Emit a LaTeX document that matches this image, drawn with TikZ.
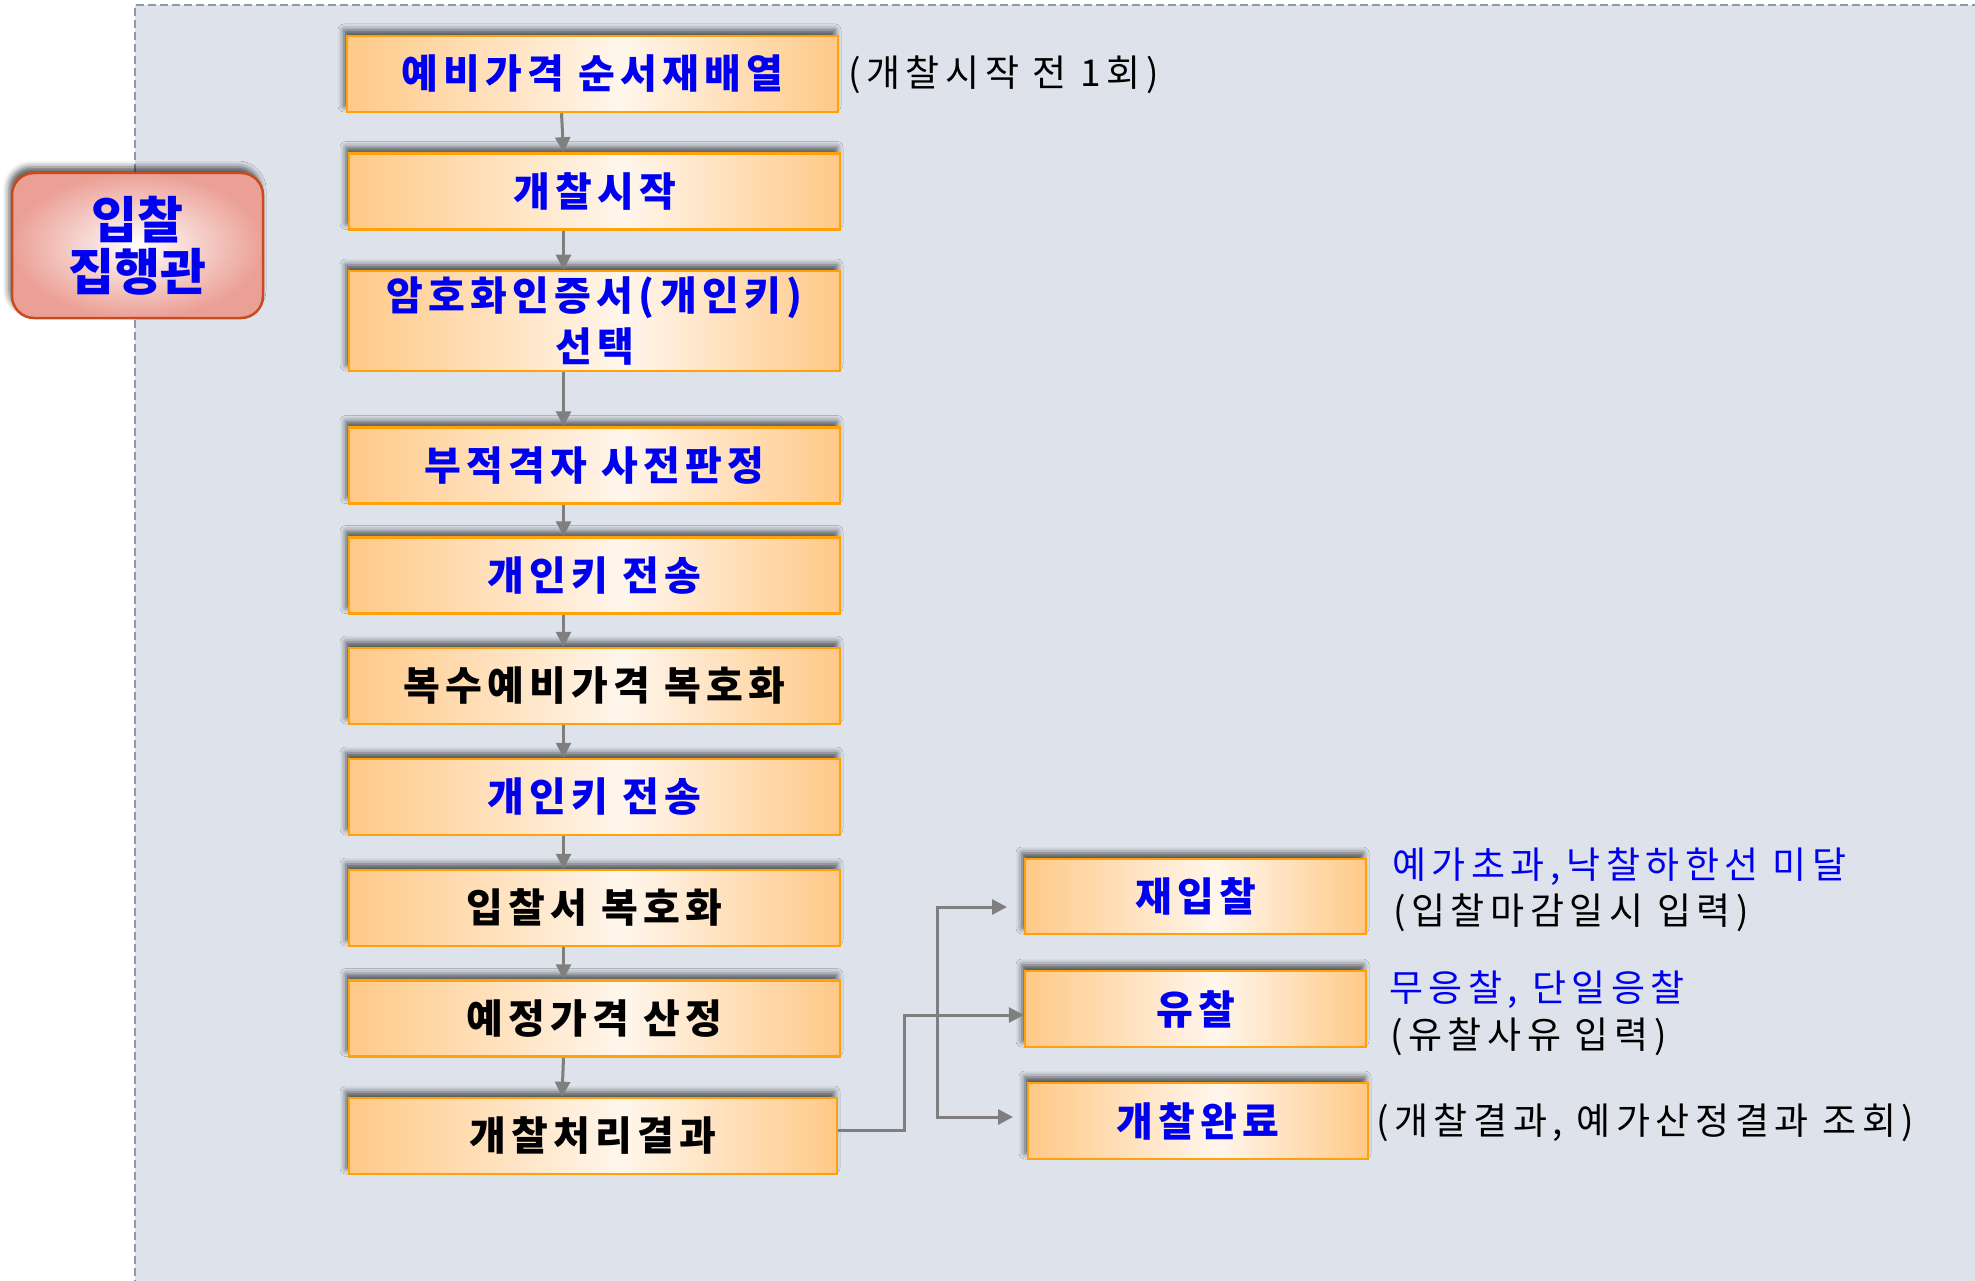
\documentclass[tikz,border=0pt]{standalone}
\usepackage{fontspec}
\usetikzlibrary{arrows.meta,shadows.blur}
\newfontfamily\krbox{Noto Sans CJK KR}[LetterSpace=13]
\newfontfamily\krnote{Noto Sans CJK KR}[LetterSpace=15]
\newfontfamily\krbig{Noto Sans CJK KR}
\definecolor{panel}{HTML}{DEE3EB}
\definecolor{panelline}{HTML}{8A99AE}
\definecolor{boxor}{HTML}{FFC987}
\definecolor{boxwh}{HTML}{FFF6EC}
\definecolor{boxborder}{HTML}{FFA20A}
\definecolor{txtblue}{HTML}{0000F0}
\definecolor{conngray}{HTML}{7F7F7F}
\definecolor{redborder}{HTML}{C84A1E}
\definecolor{redout}{HTML}{EBA096}
\pgfdeclarehorizontalshading{boxshade}{100bp}{color(0bp)=(boxor); color(25bp)=(boxor); color(53bp)=(boxwh); color(75bp)=(boxor); color(100bp)=(boxor)}
\tikzset{
  flowbox/.style={draw=boxborder, line width=2.5pt, shading=boxshade,
    minimum width=491pt, minimum height=76pt, inner sep=0pt, align=center,
    font=\krbox\bfseries\fontsize{40}{51}\selectfont, text=txtblue,
    blur shadow={shadow xshift=-3pt, shadow yshift=6pt, shadow blur radius=6pt, shadow opacity=65}},
  blk/.style={text=black},
  sidebox/.style={flowbox, minimum width=341pt},
  note/.style={anchor=west, inner sep=0pt, font=\krnote\fontsize{37}{40}\selectfont, text=black},
  bluenote/.style={note, text=txtblue},
  conn/.style={draw=conngray, line width=3pt, -{Triangle[length=15pt,width=15pt]}},
  redbox/.style={draw=redborder, line width=2.5pt, rounded corners=22pt,
    inner color=white, outer color=redout, minimum width=251pt, minimum height=145pt,
    align=center, text=txtblue, font=\krbig\bfseries\fontsize{50}{52}\selectfont,
    blur shadow={shadow xshift=-3pt, shadow yshift=6pt, shadow blur radius=6pt, shadow opacity=65}}
}
\begin{document}
\begin{tikzpicture}[x=1pt,y=-1pt]
\useasboundingbox (0,0) rectangle (1975,1281);
\clip (0,0) rectangle (1975,1281);
\fill[panel] (135,5) rectangle (1990,1300);
\draw[panelline, line width=2pt, dash pattern=on 8pt off 4pt] (135,1300) -- (135,5) -- (1990,5);

\node[flowbox] (b1) at (592.5,74) {예비가격 순서재배열};
\node[flowbox] (b2) at (594.5,191.5) {개찰시작};
\node[flowbox, minimum height=100pt] (b3) at (594.5,321) {암호화인증서(개인키)\\선택};
\node[flowbox] (b4) at (594.5,465.5) {부적격자 사전판정};
\node[flowbox] (b5) at (594.5,575.5) {개인키 전송};
\node[flowbox, blk] (b6) at (594.5,686) {복수예비가격 복호화};
\node[flowbox] (b7) at (594.5,797) {개인키 전송};
\node[flowbox, blk] (b8) at (594.5,908) {입찰서 복호화};
\node[flowbox, blk] (b9) at (594.5,1018.5) {예정가격 산정};
\node[flowbox, blk, minimum width=488pt] (b10) at (593,1136) {개찰처리결과};

\node[sidebox, minimum height=75pt] (r1) at (1195.5,896.5) {재입찰};
\node[sidebox] (r2) at (1195.5,1009) {유찰};
\node[sidebox, minimum width=340pt] (r3) at (1198,1121) {개찰완료};

\node[redbox] (rb) at (137.5,245.5) {입찰\\집행관};

\node[note] (n1) at (848,75) {(개찰시작 전 1회)};
\node[bluenote] (n2) at (1392,867) {예가초과,낙찰하한선 미달};
\node[note] (n3) at (1393,913) {(입찰마감일시 입력)};
\node[bluenote] (n4) at (1389,990) {무응찰, 단일응찰};
\node[note] (n5) at (1390,1037) {(유찰사유 입력)};
\node[note] (n6) at (1376,1123) {(개찰결과, 예가산정결과 조회)};

\foreach \a/\b in {b1/b2,b2/b3,b3/b4,b4/b5,b5/b6,b6/b7,b7/b8,b8/b9,b9/b10}
  \draw[conn] ([xshift=-31pt]\a.south) -- ([xshift=-31pt]\b.north);

\draw[conn] ([yshift=6pt]b10.east) -- ++(66,0) |- ([yshift=-6pt]r2.west);

\coordinate (tA) at (1007,907);
\coordinate (tB) at (1013,1117);
\coordinate (va) at (937,907);
\coordinate (vb) at (937,1117);
\draw[conn, {Triangle[length=15pt,width=15pt]}-{Triangle[length=15pt,width=15pt]}] (tA) -- (va) -- (vb) -- (tB);
\end{tikzpicture}
\end{document}
